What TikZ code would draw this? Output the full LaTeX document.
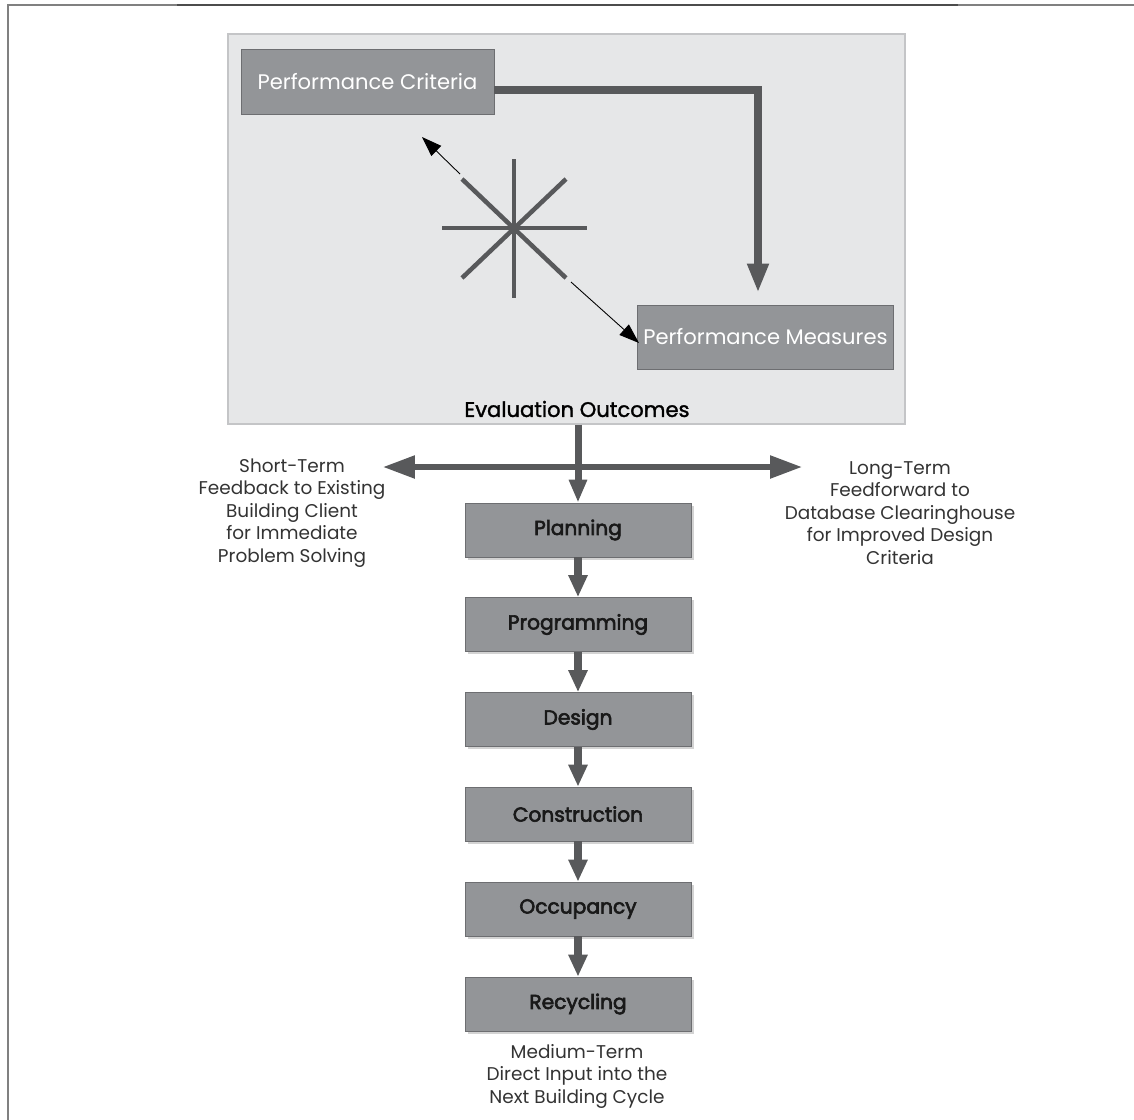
\documentclass[tikz,border=0pt]{standalone}
\usepackage{fontspec}
\setmainfont{Poppins}
\newfontfamily\stagefont[FakeBold=3]{Poppins}
\newfontfamily\titlefont[FakeBold=1.5]{Poppins}
\usepackage{tikz}
\usetikzlibrary{arrows.meta,shadows}
\usepackage{xcolor}
\definecolor{boxgray}{HTML}{939598}
\definecolor{boxline}{HTML}{6D6E71}
\definecolor{panelgray}{HTML}{E6E7E8}
\definecolor{panelline}{HTML}{C4C5C7}
\definecolor{arrowgray}{HTML}{58595B}
\definecolor{textgray}{HTML}{333333}

\begin{document}
\begin{tikzpicture}[x=0.02cm, y=-0.02cm]
    \tikzstyle{panel} = [rectangle, draw=panelline, fill=panelgray, line width=0.8pt, minimum width=13.54cm, minimum height=7.8cm]
    \tikzstyle{perf} = [rectangle, draw=boxline, fill=boxgray, minimum width=5.06cm, text=white, font=\fontsize{12}{14}\selectfont]
    \tikzstyle{stage} = [rectangle, draw=boxline, fill=boxgray, minimum width=4.52cm, minimum height=1.08cm, text=black!90, font=\fontsize{11.5}{13}\stagefont, drop shadow={shadow xshift=1.6pt, shadow yshift=-1.6pt, opacity=0.35}]
    \tikzstyle{note} = [align=center, text=textgray, font=\fontsize{10.5}{12.8}\selectfont]
    \tikzstyle{flow} = [draw=arrowgray, line width=1.6mm, -{Triangle[length=4.4mm, width=3.6mm]}]
    \tikzstyle{spoke} = [draw=arrowgray, line width=0.9mm]
    \tikzstyle{thin} = [draw=black, line width=0.5pt, -{Triangle[length=4mm, width=2.8mm]}]

    \useasboundingbox (0,0) rectangle (1134,1120);

    % Rahmen
    \draw[gray, line width=0.8pt] (8,1120) -- (8,5) -- (1134,5);
    \draw[black!70, line width=1.7pt] (177,5) -- (958,5);

    % Bewertung
    \node[panel] (panel) at (566.5,229) {};
    \node[perf, minimum height=1.3cm] (crit) at (367.5,81.5) {Performance Criteria};
    \node[perf, minimum height=1.28cm] (meas) at (765.5,337) {Performance Measures};
    \node[text=black, font=\fontsize{12}{14}\titlefont] (outcomes) at (577,409) {Evaluation Outcomes};

    % Stern und Pfeile
    \coordinate (star) at (514,228);
    \coordinate (critend) at (422,137);
    \coordinate (starnw) at (460,174);
    \coordinate (starse) at (571,282);
    \coordinate (measend) at (639,343);
    \coordinate (turn) at (758,90);
    \draw[spoke] (star) +(0,-69) -- +(0,70);
    \draw[spoke] (star) +(-72,0) -- +(73,0);
    \draw[spoke] (star) +(-52,-49) -- +(52,50);
    \draw[spoke] (star) +(52,-49) -- +(-52,50);
    \draw[thin] (starnw) -- (critend);
    \draw[thin] (starse) -- (measend);
    \draw[draw=arrowgray, line width=1.6mm, line join=miter, shorten >=2.4mm, -{Triangle[length=5.8mm, width=4mm]}] (crit.east |- turn) -- (turn) -- (turn |- meas.north);

    % Phasen
    \node[stage] (planning) at (578,530) {Planning};
    \node[stage] (programming) at (578,624.5) {Programming};
    \node[stage] (design) at (578,719.5) {Design};
    \node[stage] (construction) at (578,814) {Construction};
    \node[stage] (occupancy) at (578,909) {Occupancy};
    \node[stage] (recycling) at (578,1004) {Recycling};

    % Texte
    \node[note] (shortterm) at (292,513) {Short-Term\\Feedback to Existing\\Building Client\\for Immediate\\Problem Solving};
    \node[note] (longterm) at (900,513) {Long-Term\\Feedforward to\\Database Clearinghouse\\for Improved Design\\Criteria};
    \node[note] (mediumterm) at (577,1076) {Medium-Term\\Direct Input into the\\Next Building Cycle};

    % Verbindungen
    \coordinate (shortend) at (383,467);
    \coordinate (longend) at (802,467);
    \draw[draw=arrowgray, line width=1.1mm, {Triangle[length=6.4mm, width=4.4mm]}-{Triangle[length=6.4mm, width=4.4mm]}] (shortend) -- (longend);
    \draw[draw=arrowgray, line width=1.4mm, -{Triangle[length=4.6mm, width=3.4mm]}] (panel.south -| planning.north) -- (planning.north);
    \draw[flow] (planning) -- (programming);
    \draw[flow] (programming) -- (design);
    \draw[flow] (design) -- (construction);
    \draw[flow] (construction) -- (occupancy);
    \draw[flow] (occupancy) -- (recycling);
\end{tikzpicture}
\end{document}
